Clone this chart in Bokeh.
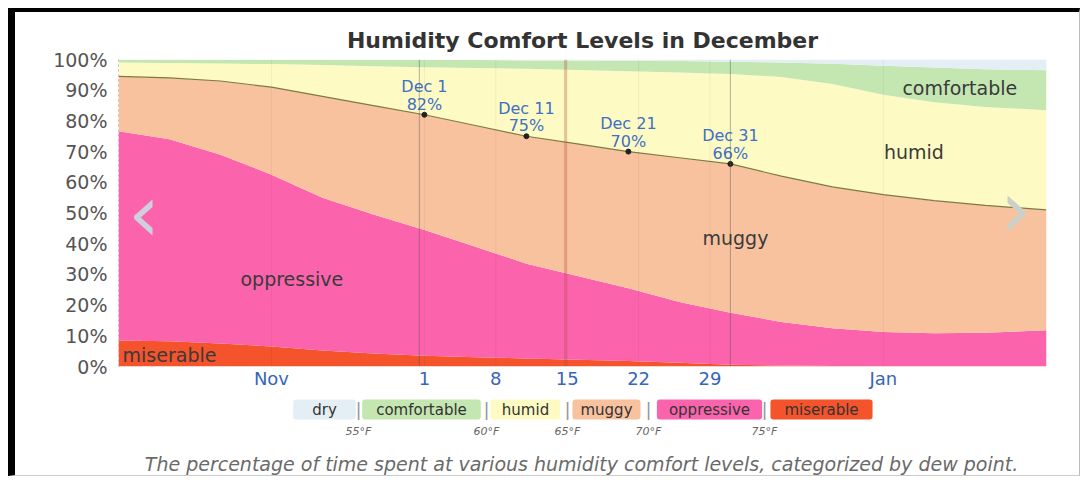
import pandas as pd
from bokeh.plotting import figure
from bokeh.layouts import column
from bokeh.models import ColumnDataSource, FixedTicker, Label, Span, Range1d, PrintfTickFormatter
from bokeh.transform import stack
from bokeh.embed import file_html
from bokeh.resources import INLINE

# ---------------- data ----------------
dates = ["2023-11-01 12:00", "2023-11-06 12:00", "2023-11-11 12:00", "2023-11-16 12:00",
         "2023-11-21 12:00", "2023-11-26 12:00", "2023-12-01 12:00", "2023-12-06 12:00",
         "2023-12-11 12:00", "2023-12-16 12:00", "2023-12-21 12:00", "2023-12-26 12:00",
         "2023-12-31 12:00", "2024-01-05 12:00", "2024-01-10 12:00", "2024-01-15 12:00",
         "2024-01-20 12:00", "2024-01-25 12:00", "2024-01-31 12:00"]

miserable   = [8.5, 8.2, 7.5, 6.5, 5.2, 4.2, 3.5, 3.0, 2.6, 2.2, 1.8, 1.2, 0.6, 0.3, 0.2, 0.1, 0.1, 0.1, 0.1]
oppressive  = [68.1, 65.8, 61.5, 56.0, 49.8, 45.3, 41.0, 36.0, 30.9, 27.3, 23.7, 19.8, 16.9, 14.2, 12.3, 11.1, 10.7, 10.9, 11.7]
muggy       = [17.9, 20.0, 24.0, 28.5, 33.0, 35.5, 37.5, 39.5, 41.5, 43.0, 44.5, 47.0, 48.5, 47.5, 46.0, 44.8, 43.2, 41.5, 39.2]
humid       = [4.5, 4.9, 5.7, 7.5, 10.2, 12.8, 15.5, 18.7, 22.0, 24.1, 26.2, 27.8, 29.3, 32.3, 33.5, 32.5, 32.1, 32.0, 32.5]
comfortable = [0.9, 1.0, 1.2, 1.4, 1.7, 2.0, 2.3, 2.6, 2.7, 3.1, 3.4, 3.7, 4.0, 4.7, 6.6, 9.5, 11.3, 12.3, 13.0]
dry         = [0.1, 0.1, 0.1, 0.1, 0.1, 0.2, 0.2, 0.2, 0.3, 0.3, 0.4, 0.5, 0.7, 1.0, 1.4, 2.0, 2.7, 3.2, 3.5]

categories = ["dry", "comfortable", "humid", "muggy", "oppressive", "miserable"]
thresholds = ["55°F", "60°F", "65°F", "70°F", "75°F"]
colors = {"dry": "#e3eff4", "comfortable": "#c4e6b0", "humid": "#fdfbc3",
          "muggy": "#f9c29f", "oppressive": "#fc63ad", "miserable": "#f4532b"}

annot_dates = ["2023-12-01 12:00", "2023-12-11 12:00", "2023-12-21 12:00", "2023-12-31 12:00"]

tick_dates = ["2023-11-16 12:00", "2023-12-01 12:00", "2023-12-08 12:00", "2023-12-15 12:00",
              "2023-12-22 12:00", "2023-12-29 12:00", "2024-01-15 12:00"]
tick_labels = ["Nov", "1", "8", "15", "22", "29", "Jan"]

caption = "The percentage of time spent at various humidity comfort levels, categorized by dew point."

FONT = "DejaVu Sans"

# ---------------- build ----------------
dts = pd.to_datetime(dates)
df = pd.DataFrame(dict(date=dts, miserable=miserable, oppressive=oppressive, muggy=muggy,
                       humid=humid, comfortable=comfortable, dry=dry))
src = ColumnDataSource(df)

ad = df[df["date"].isin(pd.to_datetime(annot_dates))].copy()
ad["top"] = ad["miserable"] + ad["oppressive"] + ad["muggy"]
ad["label"] = [f"{d.strftime('%b')} {d.day}\n{round(v)}%" for d, v in zip(ad["date"], ad["top"])]
asrc = ColumnDataSource(ad)

def ms(s):
    return float(pd.Timestamp(s).value // 10**6)

W = 1072
p = figure(width=W, height=386, x_axis_type="datetime",
           x_range=Range1d(dts[0], dts[-1]), y_range=Range1d(0, 100),
           output_backend="svg", toolbar_location=None,
           min_border_left=103, min_border_right=41, min_border_top=47, min_border_bottom=32)
p.styles = {"border-left": "7px solid #000", "border-top": "4px solid #000",
            "border-right": "1px solid #bbb"}
p.outline_line_color = None
p.background_fill_color = "white"

stackers = ["miserable", "oppressive", "muggy", "humid", "comfortable", "dry"]
p.varea_stack(stackers=stackers, x="date", color=[colors[s] for s in stackers], source=src)

# background vertical lines
for s in tick_dates:
    p.add_layout(Span(location=ms(s), dimension="height", line_color="#000000", line_alpha=0.05, line_width=1))
for s in ["2023-12-01 00:00", "2023-12-31 12:00"]:
    p.add_layout(Span(location=ms(s), dimension="height", line_color="#555555", line_alpha=0.45, line_width=1))
p.add_layout(Span(location=ms("2023-12-15 08:00"), dimension="height", line_color="#b5483f", line_alpha=0.3, line_width=3))

p.line(x="date", y=stack("miserable", "oppressive", "muggy"), source=src,
       line_color="#7d7a45", line_width=1.2)
p.scatter(x="date", y="top", source=asrc, size=5, color="#222222")
p.text(x="date", y="top", text="label", source=asrc, text_align="center", text_baseline="bottom",
       y_offset=-1, text_font_size="16px", text_line_height=0.92, text_color="#3f6fc6",
       text_font={"value": FONT})

# region labels
for txt, d, yv in [("comfortable", "2024-01-23 00:00", 90.8), ("humid", "2024-01-18 12:00", 70),
                   ("muggy", "2024-01-01 00:00", 41.8), ("oppressive", "2023-11-18 12:00", 28.4),
                   ("miserable", "2023-11-06 12:00", 3.8)]:
    p.add_layout(Label(x=ms(d), y=yv, text=txt, text_align="center", text_baseline="middle",
                       text_font=FONT, text_font_size="19px", text_color="#3a3a3a"))

# nav arrows
p.add_layout(Label(x=ms("2023-11-04 00:00"), y=50, text="‹", text_align="center", text_baseline="middle",
                   text_font=FONT, text_font_size="80px", text_color="#cfcfdd"))
p.add_layout(Label(x=ms("2024-01-28 12:00"), y=51, text="›", text_align="center", text_baseline="middle",
                   text_font=FONT, text_font_size="80px", text_color="#cdd0c8"))

# axes
p.yaxis.ticker = FixedTicker(ticks=list(range(0, 101, 10)))
p.yaxis.formatter = PrintfTickFormatter(format="%d%%")
p.yaxis.major_label_text_font = FONT
p.yaxis.major_label_text_font_size = "19px"
p.yaxis.major_label_text_color = "#555555"
p.yaxis.axis_line_color = "#bbbbbb"
p.yaxis.axis_line_dash = "2 3"
p.yaxis.major_tick_line_color = None
p.yaxis.minor_tick_line_color = None
p.yaxis.major_tick_out = 0
p.yaxis.major_label_standoff = 11

tick_ms = [ms(s) for s in tick_dates]
p.xaxis.ticker = FixedTicker(ticks=tick_ms)
p.xaxis.major_label_overrides = {t: l for t, l in zip(tick_ms, tick_labels)}
p.xaxis.major_label_text_font = FONT
p.xaxis.major_label_text_font_size = "18px"
p.xaxis.major_label_text_color = "#3766b8"
p.xaxis.axis_line_color = None
p.xaxis.major_tick_line_color = None
p.xaxis.minor_tick_line_color = None
p.xaxis.major_tick_out = 0
p.xaxis.major_label_standoff = 1

p.xgrid.grid_line_color = None
p.ygrid.grid_line_color = None

p.title.text = "Humidity Comfort Levels in December"
p.title.align = "center"
p.title.text_font = FONT
p.title.text_font_size = "22px"
p.title.text_font_style = "bold"
p.title.text_color = "#333333"
p.title.standoff = 14

# ---------------- legend / caption panel ----------------
# screen x positions are relative to the (aligned) plot frame left edge
LH = 82
leg = figure(width=W, height=LH, x_range=Range1d(0, 1064), y_range=Range1d(0, LH - 1),
             output_backend="svg", toolbar_location=None,
             min_border_left=0, min_border_right=0, min_border_top=0, min_border_bottom=0)
leg.styles = {"border-left": "7px solid #000", "border-right": "1px solid #bbb",
              "border-bottom": "1px solid #ccc"}
leg.axis.visible = False
leg.grid.grid_line_color = None
leg.outline_line_color = None

pill_x = [206, 303, 407, 488, 591, 703]
pill_pad = [(19, 1), (14, 1), (11, 1), (8, 1), (12, 1), (14, 1)]
for cat, x, pad in zip(categories, pill_x, pill_pad):
    leg.add_layout(Label(x=x, y=67, x_units="screen", y_units="screen", text=cat,
                         text_align="center", text_baseline="middle", text_font=FONT,
                         text_font_size="15px", text_color="#333333",
                         background_fill_color=colors[cat], padding=pad, border_radius=3))
sep_x = [240, 368, 449, 530, 646]
for x, t in zip(sep_x, thresholds):
    leg.add_layout(Label(x=x, y=67, x_units="screen", y_units="screen", text="|",
                         text_align="center", text_baseline="middle", text_font=FONT,
                         text_font_size="18px", text_color="#999999"))
    leg.add_layout(Label(x=x, y=45, x_units="screen", y_units="screen", text=t,
                         text_align="center", text_baseline="middle", text_font=FONT,
                         text_font_size="11px", text_font_style="italic", text_color="#666666"))

leg.add_layout(Label(x=463, y=13, x_units="screen", y_units="screen", text=caption,
                     text_align="center", text_baseline="middle", text_font=FONT,
                     text_font_size="19px", text_font_style="italic", text_color="#6a6a6a"))

layout = column(p, leg, spacing=0)
layout.styles = {"margin-left": "8px", "margin-top": "8px"}

open("out.html", "w").write(file_html(layout, INLINE))
